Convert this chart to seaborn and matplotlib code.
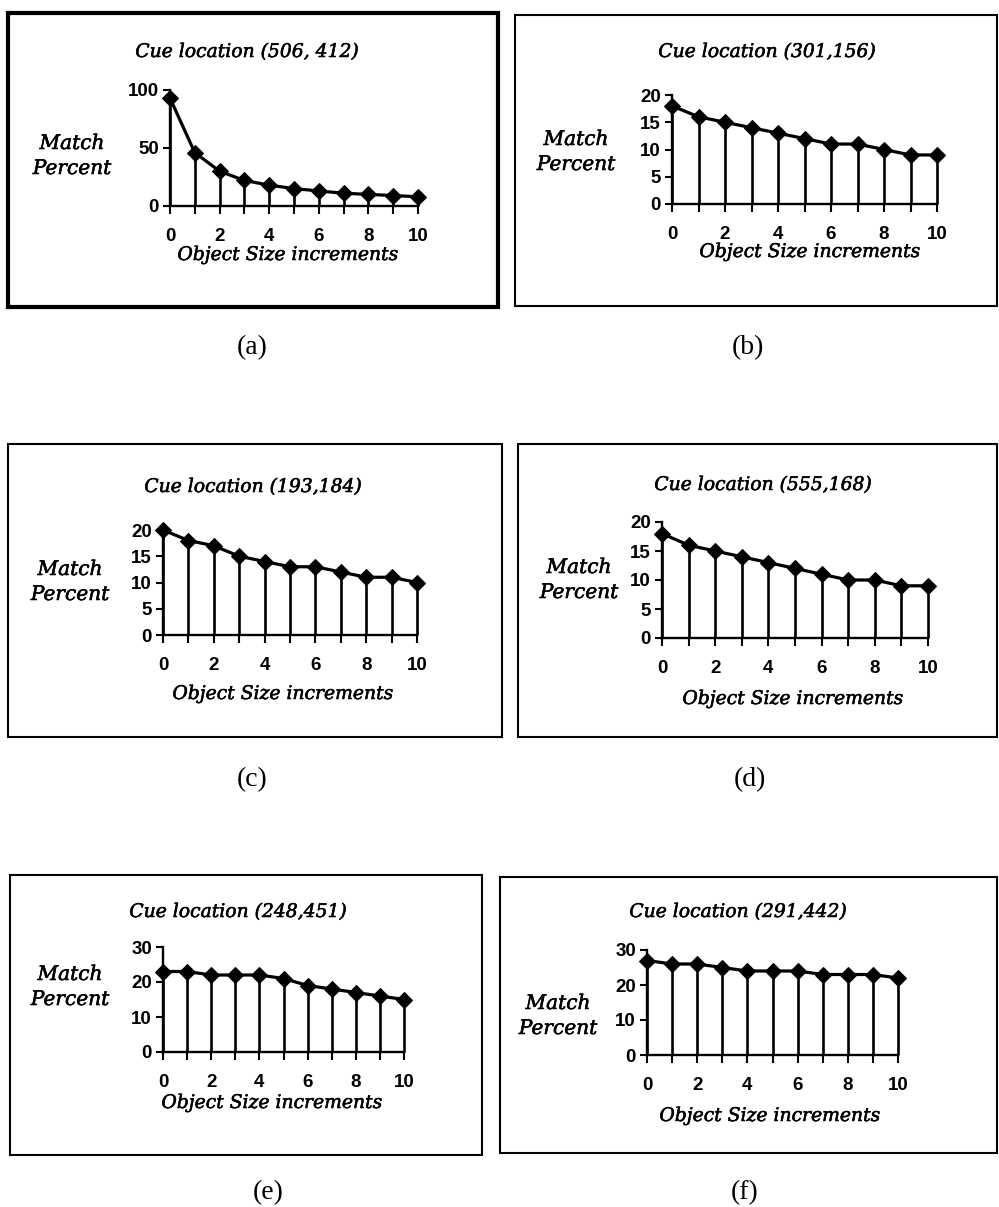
import matplotlib
matplotlib.use("Agg")
import matplotlib.pyplot as plt
import matplotlib.patheffects as pe
from matplotlib.patches import Rectangle
import seaborn as sns

# data
sizeSteps = list(range(11))
xTickLabels = ["0", "", "2", "", "4", "", "6", "", "8", "", "10"]

cueTitles = ["Cue location (506, 412)", "Cue location (301,156)", "Cue location (193,184)",
             "Cue location (555,168)", "Cue location (248,451)", "Cue location (291,442)"]
panelTags = ["(a)", "(b)", "(c)", "(d)", "(e)", "(f)"]

matchA = [93, 46, 30, 22, 18, 15, 13, 11, 10, 9, 8]
matchB = [18, 16, 15, 14, 13, 12, 11, 11, 10, 9, 9]
matchC = [20, 18, 17, 15, 14, 13, 13, 12, 11, 11, 10]
matchD = [18, 16, 15, 14, 13, 12, 11, 10, 10, 9, 9]
matchE = [23, 23, 22, 22, 22, 21, 19, 18, 17, 16, 15]
matchF = [27, 26, 26, 25, 24, 24, 24, 23, 23, 23, 22]

yTicksA = [0, 50, 100]
yTicksBCD = [0, 5, 10, 15, 20]
yTicksEF = [0, 10, 20, 30]

W, H = 999, 1207

# pixel layout: box, box linewidth, plot area (x0, x1, ytop, ybot), title, ylabel, xlabel, tag
layout = [
    dict(box=(8, 13, 498, 307), lw=3.0, area=(170, 418, 90, 206), title=(247, 52),
         ylab=(72, 156), xlab=(288, 255), tag=(252, 348)),
    dict(box=(515, 15, 997, 306), lw=1.5, area=(672, 937, 95, 204), title=(767, 52),
         ylab=(576, 152), xlab=(810, 252), tag=(748, 348)),
    dict(box=(8, 444, 502, 737), lw=1.5, area=(163, 417, 530, 635), title=(253, 487),
         ylab=(70, 582), xlab=(283, 694), tag=(252, 780)),
    dict(box=(518, 444, 997, 737), lw=1.5, area=(662, 928, 522, 638), title=(763, 485),
         ylab=(579, 580), xlab=(793, 699), tag=(750, 780)),
    dict(box=(10, 875, 482, 1155), lw=1.5, area=(163, 404, 947, 1052), title=(238, 912),
         ylab=(70, 987), xlab=(272, 1103), tag=(268, 1193)),
    dict(box=(500, 877, 997, 1153), lw=1.5, area=(647, 898, 950, 1055), title=(738, 912),
         ylab=(558, 1016), xlab=(770, 1116), tag=(745, 1193)),
]

allMatch = [matchA, matchB, matchC, matchD, matchE, matchF]
allYTicks = [yTicksA, yTicksBCD, yTicksBCD, yTicksBCD, yTicksEF, yTicksEF]

sns.set_style("ticks", {"axes.edgecolor": "black", "xtick.color": "black",
                        "ytick.color": "black", "text.color": "black"})
plt.rcParams['font.family'] = ['DejaVu Serif', 'Liberation Serif']

fig = plt.figure(figsize=(W / 100, H / 100), dpi=100)
fig.patch.set_facecolor("white")


def fx(px):
    return px / W


def fy(py):
    return 1 - py / H


# a touch of stroke to get the heavier scanned look
heavy = [pe.withStroke(linewidth=0.4, foreground="black")]
serifItalic = dict(family='DejaVu Serif', style='italic', color="black", path_effects=heavy)

for i, spec in enumerate(layout):
    bx0, by0, bx1, by1 = spec["box"]
    fig.patches.append(Rectangle((fx(bx0), fy(by1)), fx(bx1 - bx0), (by1 - by0) / H,
                                 transform=fig.transFigure, fill=False,
                                 edgecolor="black", linewidth=spec["lw"]))

    ax0, ax1, ayt, ayb = spec["area"]
    ax = fig.add_axes([fx(ax0), fy(ayb), fx(ax1 - ax0), (ayb - ayt) / H])
    vals = allMatch[i]
    yt = allYTicks[i]

    ax.vlines(sizeSteps, 0, vals, color="black", linewidth=1.9, clip_on=False)
    sns.lineplot(x=sizeSteps, y=vals, ax=ax, color="black", linewidth=2.3,
                 marker="D", markersize=8.5, markeredgecolor="black")
    for ln in ax.lines:
        ln.set_clip_on(False)

    ax.set_xlim(0, 10)
    ax.set_ylim(0, yt[-1])
    ax.set_xticks(sizeSteps)
    ax.set_xticklabels(xTickLabels)
    ax.set_yticks(yt)
    ax.set_yticklabels([str(v) for v in yt])
    for lab in ax.get_xticklabels() + ax.get_yticklabels():
        lab.set_family("Liberation Sans")
        lab.set_fontweight("bold")
        lab.set_fontsize(13.5)
        lab.set_color("black")
    ax.tick_params(axis="x", direction="out", length=6, width=1.5, pad=10, colors="black")
    ax.tick_params(axis="y", direction="out", length=5, width=1.5, pad=3, colors="black")
    sns.despine(ax=ax)
    for side in ["left", "bottom"]:
        ax.spines[side].set_linewidth(1.7)
        ax.spines[side].set_color("black")
    ax.set_xlabel("")
    ax.set_ylabel("")
    ax.patch.set_alpha(0)

    tx, ty = spec["title"]
    fig.text(fx(tx), fy(ty), cueTitles[i], ha="center", va="center", fontsize=13.5,
             **serifItalic)
    lx, ly = spec["ylab"]
    fig.text(fx(lx), fy(ly), "Match\nPercent", ha="center", va="center",
             linespacing=1.4, fontsize=14.5, **serifItalic)
    xx, xy = spec["xlab"]
    fig.text(fx(xx), fy(xy), "Object Size increments", ha="center", va="center",
             fontsize=13.5, **serifItalic)
    gx, gy = spec["tag"]
    fig.text(fx(gx), fy(gy), panelTags[i], ha="center", va="center",
             family="Liberation Serif", fontsize=20, color="black")

fig.savefig("out.png", dpi=100, facecolor="white")
